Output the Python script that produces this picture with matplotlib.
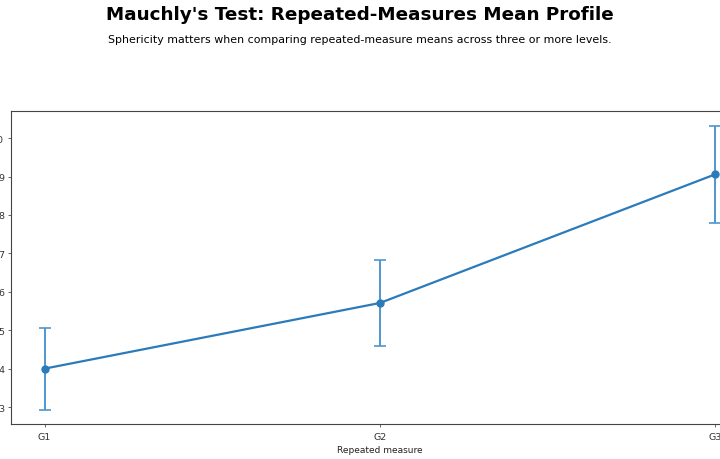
import numpy as np
import matplotlib
matplotlib.use("Agg")
import matplotlib.pyplot as plt

# repeated-measure levels, means and error half-widths
levels = ['G1', 'G2', 'G3']
means = [4.0, 5.71, 9.06]
errors = [1.07, 1.13, 1.26]

x = np.arange(len(levels))

fig = plt.figure(figsize=(7.2, 4.6), dpi=100)
# axes run off the right edge of the canvas, like the reference
ax = fig.add_axes([0.0153, 0.0761, 1.025, 0.680])

ax.errorbar(x, means, yerr=errors, color='#2b7bba', ecolor='#4f97cf',
            linewidth=1.6, elinewidth=1.4, marker='o', markersize=5,
            capsize=4, capthick=1.2)

ax.set_xlim(-0.1, 2.1)
ax.set_ylim(2.56, 10.7)
ax.set_xticks(x)
ax.set_xticklabels(levels)
ax.tick_params(labelsize=6.8, length=2.5, width=0.7, pad=2.5,
               color='#666666', labelcolor='#333333')
ax.tick_params(axis='x', pad=3.5)
ax.set_xlabel('Repeated measure', fontsize=6.5, color='#222222', labelpad=2.5)
for sp in ax.spines.values():
    sp.set_color('#444444')
    sp.set_linewidth(0.8)

fig.text(0.5, 0.967, "Mauchly's Test: Repeated-Measures Mean Profile",
         ha='center', va='center', fontsize=13.2, fontweight='bold')
fig.text(0.5, 0.913, 'Sphericity matters when comparing repeated-measure means across three or more levels.',
         ha='center', va='center', fontsize=7.9)

fig.savefig('out.png', dpi=100)
